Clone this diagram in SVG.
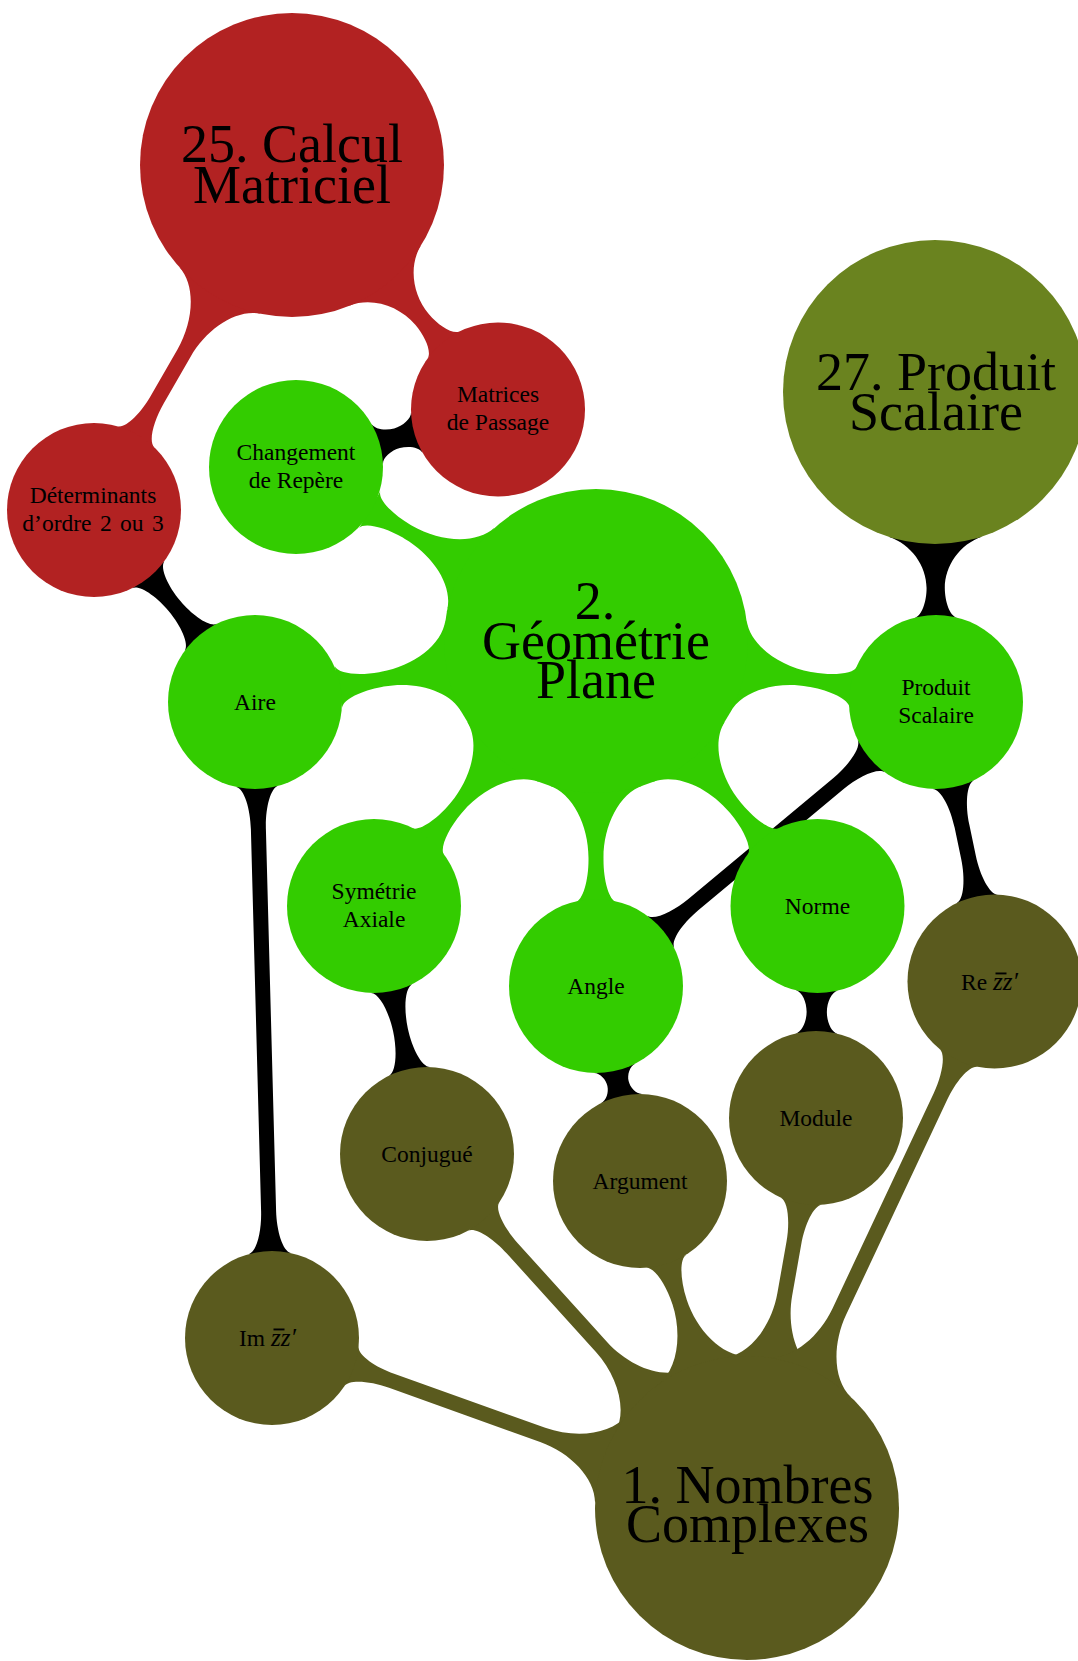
<svg xmlns="http://www.w3.org/2000/svg" width="1078" height="1661" viewBox="0 0 1078 1661">
<style>
.t{font-family:"Liberation Serif","Times New Roman",serif;fill:#000;text-anchor:middle}
.big{font-size:54px}
.sm{font-size:23.5px}
.red{fill:#B22222}
.grn{fill:#33CC00}
.olv{fill:#5A5A1E}
.drab{fill:#6A831F}
.blk{fill:#000}
</style>
<rect width="1078" height="1661" fill="#fff"/>
<g id="connectors">
<!-- cross links (black) -->
<path class="blk" transform="translate(498,409.5) rotate(164.11)" d="M84.41,21.05 C86.03,14.57 96,10.25 105,10.25 C114,10.25 123.97,14.57 125.59,21.05 L125.59,-21.05 C123.97,-14.57 114,-10.25 105,-10.25 C96,-10.25 86.03,-14.57 84.41,-21.05Z"/>
<path class="blk" transform="translate(94,510) rotate(50.01)" d="M84.41,21.05 C86.41,13.05 106.15,7.71 125.3,7.71 C144.45,7.71 164.19,13.05 166.19,21.05 L166.19,-21.05 C164.19,-13.05 144.45,-7.71 125.3,-7.71 C106.15,-7.71 86.41,-13.05 84.41,-21.05Z"/>
<path class="blk" transform="translate(935,392) rotate(89.8)" d="M144.57,46.97 C151.95,24.26 173.98,9.12 195.95,9.12 C209.47,9.12 223.81,13.89 225.59,21.05 L225.59,-21.05 C223.81,-13.89 209.47,-9.12 195.95,-9.12 C173.98,-9.12 151.95,-24.26 144.57,-46.97Z"/>
<path class="blk" transform="translate(936,702) rotate(140.13)" d="M84.41,21.05 C86.44,12.92 107,7.5 127,7.5 L316,7.5 C336,7.5 356.56,12.92 358.59,21.05 L358.59,-21.05 C356.56,-12.92 336,-7.5 316,-7.5 L127,-7.5 C107,-7.5 86.44,-12.92 84.41,-21.05Z"/>
<path class="blk" transform="translate(936,702) rotate(78.18)" d="M84.41,21.05 C86.44,12.92 107,7.5 127,7.5 L158.6,7.5 C178.6,7.5 199.16,12.92 201.19,21.05 L201.19,-21.05 C199.16,-12.92 178.6,-7.5 158.6,-7.5 L127,-7.5 C107,-7.5 86.44,-12.92 84.41,-21.05Z"/>
<path class="blk" transform="translate(255,702) rotate(88.47)" d="M84.41,21.05 C86.44,12.92 107,7.5 127,7.5 L509.2,7.5 C529.2,7.5 549.76,12.92 551.79,21.05 L551.79,-21.05 C549.76,-12.92 529.2,-7.5 509.2,-7.5 L127,-7.5 C107,-7.5 86.44,-12.92 84.41,-21.05Z"/>
<path class="blk" transform="translate(374,906) rotate(77.94)" d="M84.41,21.05 C86.44,12.92 107,7.5 126.8,7.5 C146.6,7.5 167.16,12.92 169.19,21.05 L169.19,-21.05 C167.16,-12.92 146.6,-7.5 126.8,-7.5 C107,-7.5 86.44,-12.92 84.41,-21.05Z"/>
<path class="blk" transform="translate(596,986) rotate(77.28)" d="M84.41,21.05 C85.93,14.95 93.48,10.88 99.95,10.88 C106.42,10.88 113.97,14.95 115.49,21.05 L115.49,-21.05 C113.97,-14.95 106.42,-10.88 99.95,-10.88 C93.48,-10.88 85.93,-14.95 84.41,-21.05Z"/>
<path class="blk" transform="translate(817.5,906) rotate(90.41)" d="M84.41,21.05 C86.04,14.5 96.5,10.13 106,10.13 C115.5,10.13 125.96,14.5 127.59,21.05 L127.59,-21.05 C125.96,-14.5 115.5,-10.13 106,-10.13 C96.5,-10.13 86.04,-14.5 84.41,-21.05Z"/>
<!-- 25. Calcul Matriciel (red) -->
<path class="red" transform="translate(292,165) rotate(49.89)" d="M144.57,46.97 C152.04,23.98 177,8.65 202,8.65 C217.3,8.65 233.43,13.61 235.29,21.05 L235.29,-21.05 C233.43,-13.61 217.3,-8.65 202,-8.65 C177,-8.65 152.04,-23.98 144.57,-46.97Z"/>
<path class="red" transform="translate(292,165) rotate(119.86)" d="M144.57,46.97 C152.26,23.29 184.5,7.5 217,7.5 L270.8,7.5 C290.8,7.5 311.36,12.92 313.39,21.05 L313.39,-21.05 C311.36,-12.92 290.8,-7.5 270.8,-7.5 L217,-7.5 C184.5,-7.5 152.26,-23.29 144.57,-46.97Z"/>
<!-- 2. Geometrie Plane (green) -->
<path class="grn" transform="translate(596,641) rotate(-149.89)" d="M144.57,46.97 C152.26,23.29 184.5,7.5 217,7.5 L219,7.5 C239,7.5 259.56,12.92 261.59,21.05 L261.59,-21.05 C259.56,-12.92 239,-7.5 219,-7.5 L217,-7.5 C184.5,-7.5 152.26,-23.29 144.57,-46.97Z"/>
<path class="grn" transform="translate(596,641) rotate(169.86)" d="M144.57,46.97 C152.26,23.29 184.5,7.5 217,7.5 L219,7.5 C239,7.5 259.56,12.92 261.59,21.05 L261.59,-21.05 C259.56,-12.92 239,-7.5 219,-7.5 L217,-7.5 C184.5,-7.5 152.26,-23.29 144.57,-46.97Z"/>
<path class="grn" transform="translate(596,641) rotate(129.96)" d="M144.57,46.97 C152.26,23.29 184.5,7.5 217,7.5 L219,7.5 C239,7.5 259.56,12.92 261.59,21.05 L261.59,-21.05 C259.56,-12.92 239,-7.5 219,-7.5 L217,-7.5 C184.5,-7.5 152.26,-23.29 144.57,-46.97Z"/>
<path class="grn" transform="translate(596,641) rotate(90)" d="M144.57,46.97 C152.26,23.29 184.5,7.5 217,7.5 L219,7.5 C239,7.5 259.56,12.92 261.59,21.05 L261.59,-21.05 C259.56,-12.92 239,-7.5 219,-7.5 L217,-7.5 C184.5,-7.5 152.26,-23.29 144.57,-46.97Z"/>
<path class="grn" transform="translate(596,641) rotate(50.11)" d="M144.57,46.97 C152.26,23.29 184.5,7.5 217,7.5 L219,7.5 C239,7.5 259.56,12.92 261.59,21.05 L261.59,-21.05 C259.56,-12.92 239,-7.5 219,-7.5 L217,-7.5 C184.5,-7.5 152.26,-23.29 144.57,-46.97Z"/>
<path class="grn" transform="translate(596,641) rotate(10.17)" d="M144.57,46.97 C152.26,23.29 184.5,7.5 217,7.5 L219,7.5 C239,7.5 259.56,12.92 261.59,21.05 L261.59,-21.05 C259.56,-12.92 239,-7.5 219,-7.5 L217,-7.5 C184.5,-7.5 152.26,-23.29 144.57,-46.97Z"/>
<!-- 1. Nombres Complexes (olive) -->
<path class="olv" transform="translate(747,1508) rotate(-160.31)" d="M144.57,46.97 C152.26,23.29 184.5,7.5 217,7.5 L377.5,7.5 C397.5,7.5 418.06,12.92 420.09,21.05 L420.09,-21.05 C418.06,-12.92 397.5,-7.5 377.5,-7.5 L217,-7.5 C184.5,-7.5 152.26,-23.29 144.57,-46.97Z"/>
<path class="olv" transform="translate(747,1508) rotate(-132.11)" d="M144.57,46.97 C152.26,23.29 184.5,7.5 217,7.5 L350.2,7.5 C370.2,7.5 390.76,12.92 392.79,21.05 L392.79,-21.05 C390.76,-12.92 370.2,-7.5 350.2,-7.5 L217,-7.5 C184.5,-7.5 152.26,-23.29 144.57,-46.97Z"/>
<path class="olv" transform="translate(747,1508) rotate(-108.12)" d="M144.57,46.97 C152.26,23.29 184.5,7.5 217,7.5 L217.1,7.5 C237.1,7.5 257.66,12.92 259.69,21.05 L259.69,-21.05 C257.66,-12.92 237.1,-7.5 217.1,-7.5 L217,-7.5 C184.5,-7.5 152.26,-23.29 144.57,-46.97Z"/>
<path class="olv" transform="translate(747,1508) rotate(-79.97)" d="M144.57,46.97 C152.26,23.29 184.5,7.5 217,7.5 L269.1,7.5 C289.1,7.5 309.66,12.92 311.69,21.05 L311.69,-21.05 C309.66,-12.92 289.1,-7.5 269.1,-7.5 L217,-7.5 C184.5,-7.5 152.26,-23.29 144.57,-46.97Z"/>
<path class="olv" transform="translate(747,1508) rotate(-64.82)" d="M144.57,46.97 C152.26,23.29 184.5,7.5 217,7.5 L454.8,7.5 C474.8,7.5 495.36,12.92 497.39,21.05 L497.39,-21.05 C495.36,-12.92 474.8,-7.5 454.8,-7.5 L217,-7.5 C184.5,-7.5 152.26,-23.29 144.57,-46.97Z"/>
</g>
<g id="n25"><circle class="red" cx="292" cy="165" r="152"/><text class="t big"><tspan x="292" y="162">25. Calcul</tspan><tspan x="292" y="203">Matriciel</tspan></text></g>
<g id="nMdP"><circle class="red" cx="498" cy="409.5" r="87"/><text class="t sm"><tspan x="498" y="402">Matrices</tspan><tspan x="498" y="430">de Passage</tspan></text></g>
<g id="nDet"><circle class="red" cx="94" cy="510" r="87"/><text class="t sm"><tspan x="93" y="503">Déterminants</tspan><tspan x="93" y="531" word-spacing="2.5">d’ordre 2 ou 3</tspan></text></g>
<g id="n27"><circle class="drab" cx="935" cy="392" r="152"/><text class="t big"><tspan x="936" y="390">27. Produit</tspan><tspan x="936" y="429.5">Scalaire</tspan></text></g>
<g id="nGeo"><circle class="grn" cx="596" cy="641" r="152"/><text class="t big"><tspan x="595" y="619">2.</tspan><tspan x="596" y="658.5">Géométrie</tspan><tspan x="596" y="698">Plane</tspan></text></g>
<g id="nCdR"><circle class="grn" cx="296" cy="467" r="87"/><text class="t sm"><tspan x="296" y="460">Changement</tspan><tspan x="296" y="488">de Repère</tspan></text></g>
<g id="nAire"><circle class="grn" cx="255" cy="702" r="87"/><text class="t sm" x="255" y="709.5">Aire</text></g>
<g id="nSym"><circle class="grn" cx="374" cy="906" r="87"/><text class="t sm"><tspan x="374" y="899">Symétrie</tspan><tspan x="374" y="927">Axiale</tspan></text></g>
<g id="nAngle"><circle class="grn" cx="596" cy="986" r="87"/><text class="t sm" x="596" y="993.5">Angle</text></g>
<g id="nNorme"><circle class="grn" cx="817.5" cy="906" r="87"/><text class="t sm" x="817.5" y="913.5">Norme</text></g>
<g id="nPS"><circle class="grn" cx="936" cy="702" r="87"/><text class="t sm"><tspan x="936" y="695">Produit</tspan><tspan x="936" y="723">Scalaire</tspan></text></g>
<g id="nNC"><circle class="olv" cx="747" cy="1508" r="152"/><text class="t big"><tspan x="747.5" y="1503">1. Nombres</tspan><tspan x="747.5" y="1542">Complexes</tspan></text></g>
<g id="nIm"><circle class="olv" cx="272" cy="1338" r="87"/><text class="t sm" x="239" y="1345.5" style="text-anchor:start">Im <tspan font-style="italic" font-size="25px">zz′</tspan></text><rect x="273.5" y="1328.5" width="11" height="1.9" fill="#000"/></g>
<g id="nConj"><circle class="olv" cx="427" cy="1154" r="87"/><text class="t sm" x="427" y="1161.5">Conjugué</text></g>
<g id="nArg"><circle class="olv" cx="640" cy="1181" r="87"/><text class="t sm" x="640" y="1188.5">Argument</text></g>
<g id="nModule"><circle class="olv" cx="816" cy="1118" r="87"/><text class="t sm" x="816" y="1125.5">Module</text></g>
<g id="nRe"><circle class="olv" cx="994.5" cy="981.5" r="87"/><text class="t sm" x="961" y="989.5" style="text-anchor:start">Re <tspan font-style="italic" font-size="25px">zz′</tspan></text><rect x="995.5" y="972.5" width="11" height="1.9" fill="#000"/></g>
</svg>
